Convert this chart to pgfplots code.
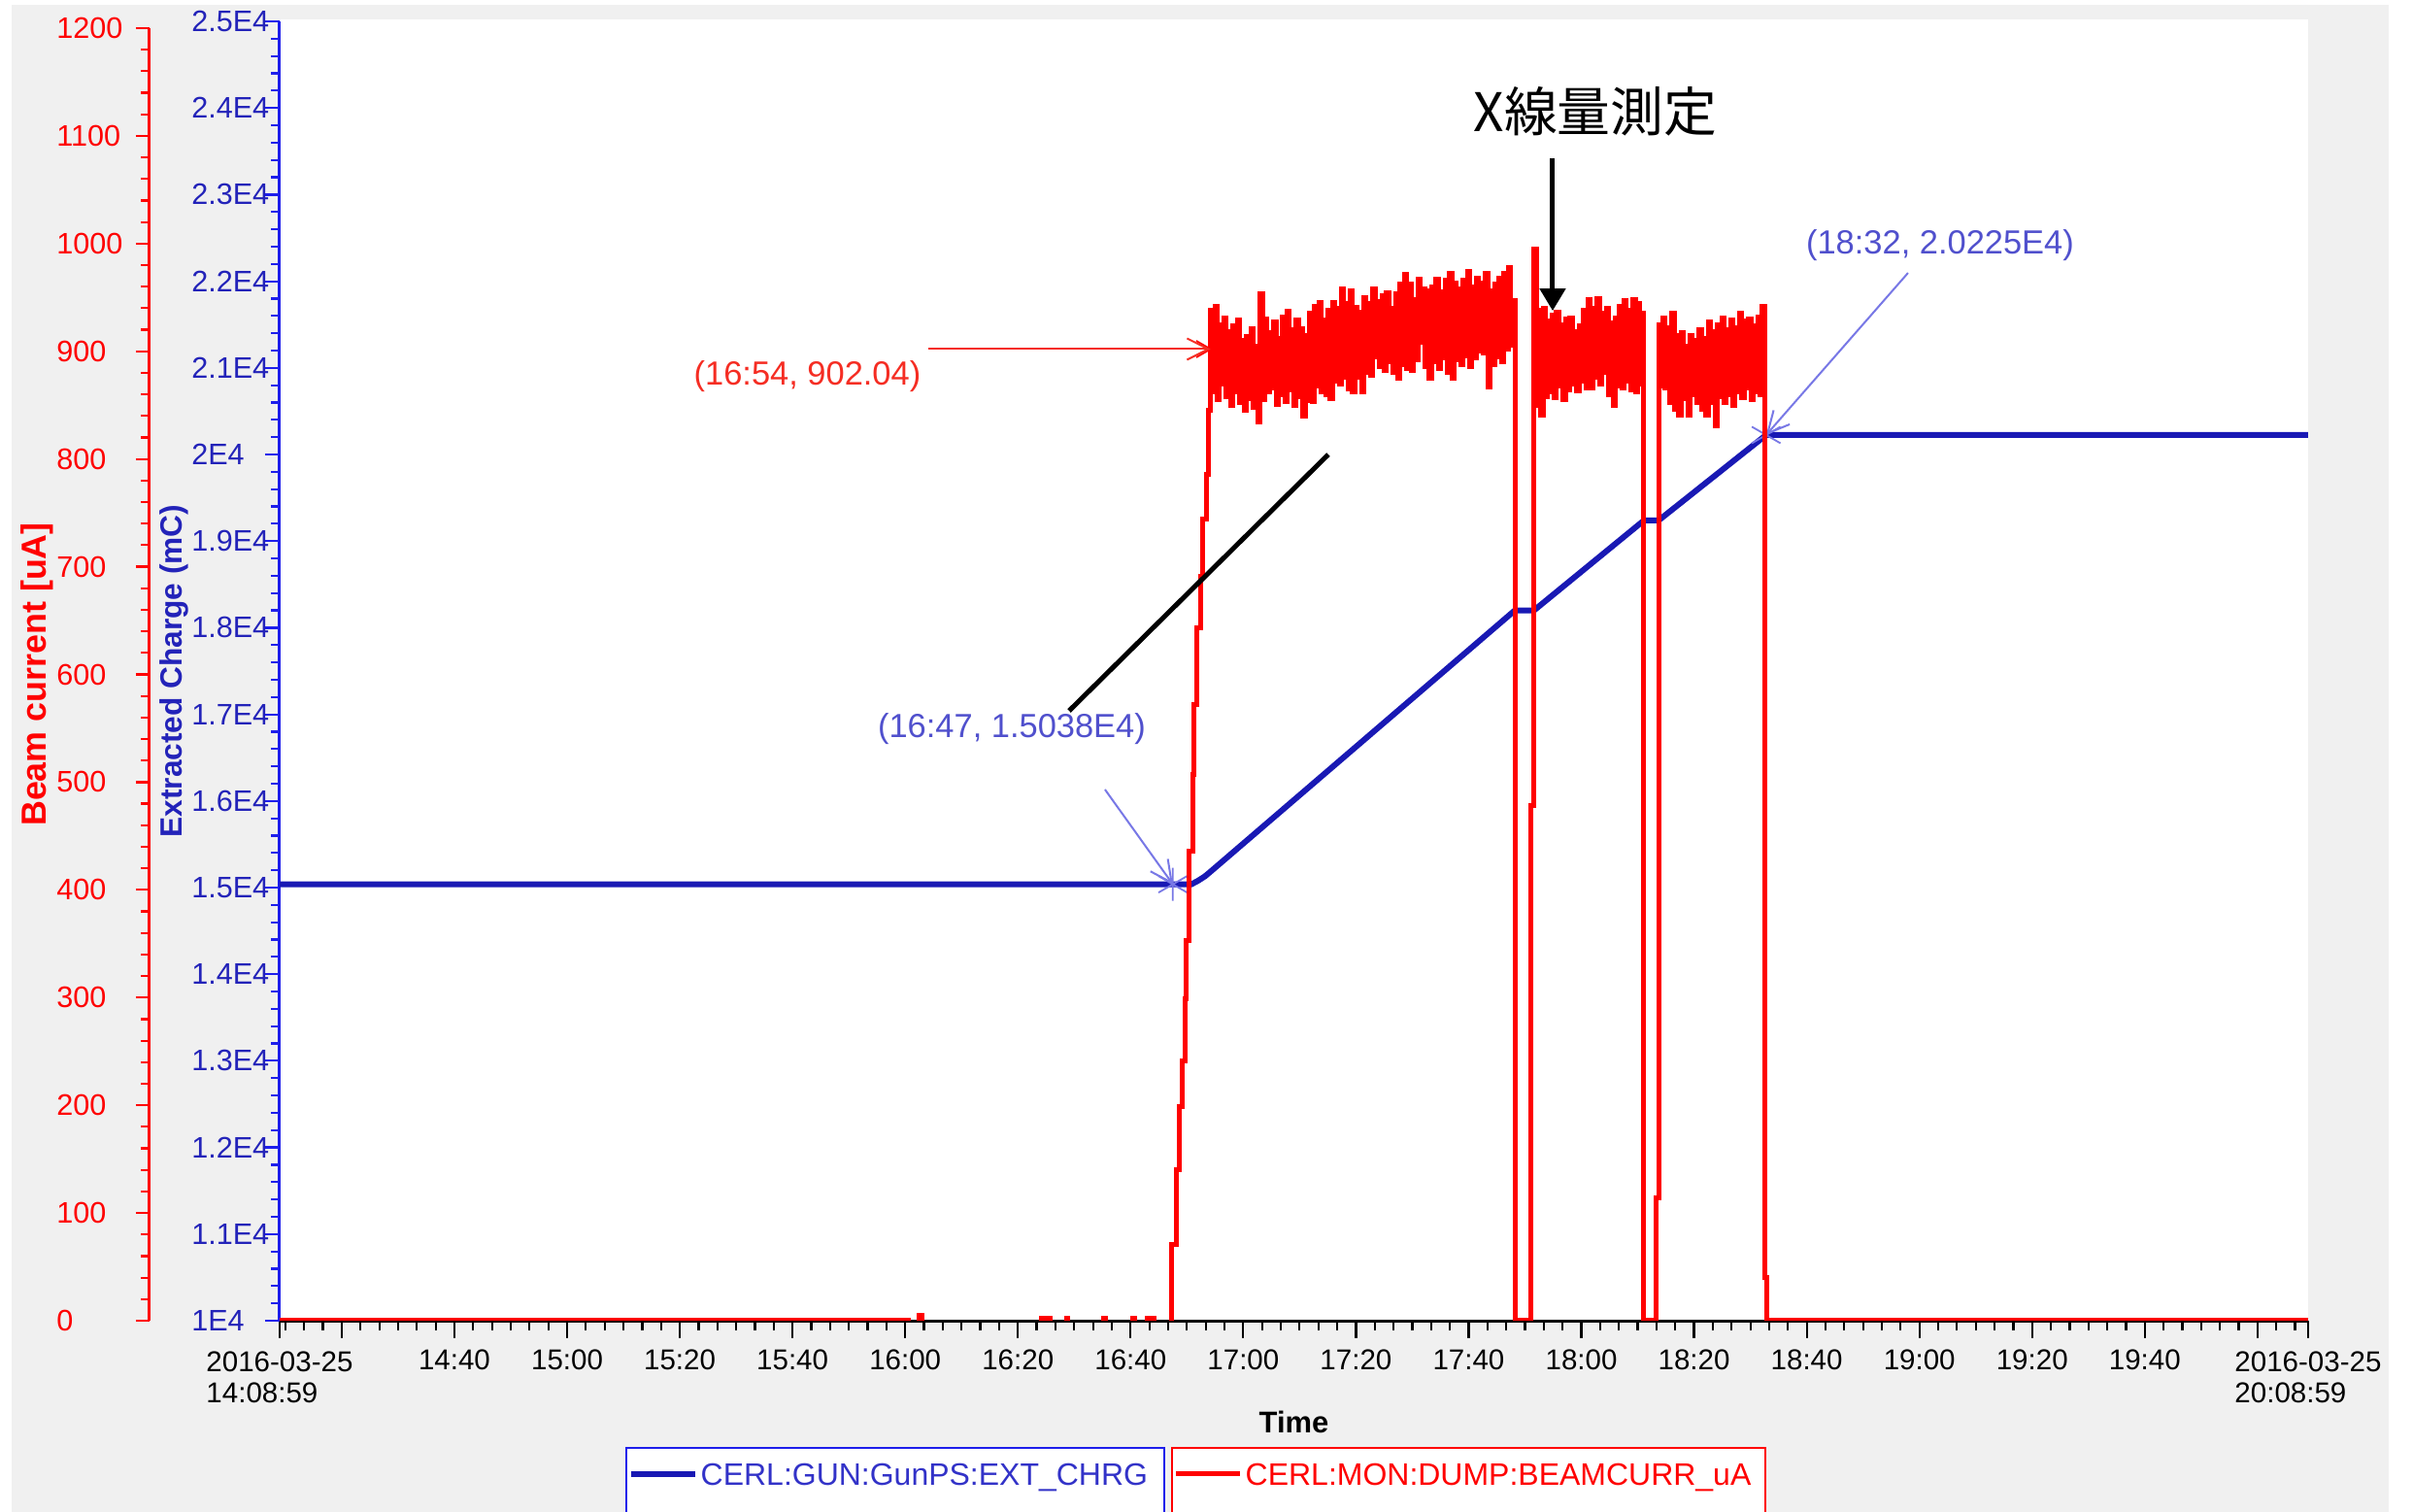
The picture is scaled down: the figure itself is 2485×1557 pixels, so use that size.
\documentclass[border=0pt]{standalone}
\usepackage{pgfplots}
\pgfplotsset{compat=1.18}
\usepackage{pgfplotstable}
\usepackage{fontspec}
\setmainfont{Liberation Sans}
\newfontfamily\cjk{Noto Sans CJK JP}
\usetikzlibrary{arrows.meta}

\definecolor{panelgray}{RGB}{240,240,240}
\definecolor{axblue}{RGB}{30,30,235}
\definecolor{tkblue}{RGB}{35,35,185}
\definecolor{datblue}{RGB}{25,25,180}
\definecolor{legblue}{RGB}{50,50,200}
\definecolor{annblue}{RGB}{80,80,205}
\definecolor{arrblue}{RGB}{120,120,230}
\definecolor{curred}{RGB}{255,0,0}
\definecolor{annred}{RGB}{245,45,35}

\newcommand\tickfont{\fontsize{8.4}{9.2}\selectfont}
\newcommand\ytickfont{\fontsize{8.7}{9.4}\selectfont}
\newcommand\annfont{\fontsize{9.8}{11}\selectfont}

% time in minutes after 14:00 (2016-03-25); extracted gun charge in mC
\pgfplotstableread{
t charge
8.983 15038
170.8 15038
172.0 15080
173.2 15130
174.3 15190
176.0 15285
228.2 18200
231.6 18200
251.1 19238
253.7 19238
272.8 20225
368.983 20225
}\chargetable

% dump beam current in uA (sample-and-hold)
\pgfplotstableread{
t current
8.983 0
120.5 -3
122.5 5
123.0 -3
144.1 2
145.8 -3
148.6 2
148.9 -3
155.2 2
155.5 -3
160.4 2
160.7 -3
163.0 2
164.1 -3
167.35 71
168.2 140
168.7 199
169.1 241
169.6 299
169.9 353
170.4 436
171.0 507
171.3 572
171.8 643
172.5 691
172.7 744
173.4 786
173.9 845
174.2 938
174.6 862
175.0 942
175.4 855
175.8 925
176.2 870
176.6 931
177.0 858
177.4 918
177.8 850
178.2 924
178.6 862
179.0 929
179.4 852
179.8 910
180.2 845
180.6 914
181.0 856
181.4 921
181.8 848
182.2 905
182.6 834
183.0 953
183.4 855
183.8 930
184.2 862
184.6 917
185.0 866
185.4 927
185.8 851
186.2 912
186.6 860
187.0 932
187.4 853
187.8 937
188.2 864
188.6 920
189.0 850
189.4 929
189.8 858
190.2 921
190.6 840
191.0 915
191.4 854
191.8 935
192.2 853
192.6 942
193.0 868
193.4 945
193.8 862
194.2 929
194.6 860
195.0 938
195.4 856
195.8 945
196.2 872
196.6 940
197.0 870
197.4 958
197.8 876
198.2 944
198.6 865
199.0 956
199.4 862
199.8 941
200.2 876
200.6 936
201.0 862
201.4 950
201.8 880
202.2 944
202.6 878
203.0 958
203.4 895
203.8 946
204.2 886
204.6 952
205.0 882
205.4 954
205.8 890
206.2 940
206.6 880
207.0 953
207.4 875
207.8 962
208.2 888
208.6 971
209.0 884
209.4 962
209.8 882
210.2 948
210.6 892
211.0 967
211.4 908
211.8 958
212.2 886
212.6 956
213.0 875
213.4 960
213.8 890
214.2 967
214.6 884
215.0 955
215.4 894
215.8 966
216.2 880
216.6 972
217.0 875
217.4 963
217.8 892
218.2 958
218.6 888
219.0 966
219.4 896
219.8 974
220.2 886
220.6 960
221.0 894
221.4 968
221.8 900
222.2 963
222.6 898
223.0 972
223.4 867
223.8 956
224.2 888
224.6 962
225.0 895
225.4 968
225.8 890
226.2 972
226.6 902
227.0 978
227.4 906
227.8 947
228.2 0
231.1 478
231.6 995
232.0 850
232.4 938
232.8 841
233.2 940
233.6 858
234.0 928
234.4 862
234.8 934
235.2 857
235.6 936
236.0 868
236.4 925
236.8 855
237.2 930
237.6 864
238.0 931
238.4 870
238.8 918
239.2 863
239.6 924
240.0 872
240.4 938
240.8 866
241.2 948
241.6 866
242.0 940
242.4 876
242.8 949
243.2 870
243.6 935
244.0 880
244.4 940
244.8 860
245.2 926
245.6 850
246.0 931
246.4 868
246.8 942
247.2 866
247.6 947
248.0 872
248.4 938
248.8 864
249.2 948
249.6 862
250.0 944
250.4 870
250.8 935
251.1 0
253.2 114
253.7 925
254.1 868
254.5 931
254.9 866
255.3 922
255.7 852
256.1 935
256.5 846
256.9 915
257.3 841
257.7 917
258.1 856
258.5 905
258.9 841
259.3 915
259.7 860
260.1 910
260.5 852
260.9 920
261.3 846
261.7 912
262.1 841
262.5 927
262.9 852
263.3 918
263.7 831
264.1 925
264.5 858
264.9 931
265.3 852
265.7 920
266.1 860
266.5 929
266.9 850
267.3 922
267.7 862
268.1 935
268.5 857
268.9 928
269.3 866
269.7 930
270.1 855
270.5 924
270.9 862
271.3 932
271.7 860
272.1 942
272.6 40
272.9 0
368.983 0
}\currenttable

\begin{document}
\begin{tikzpicture}[x=0.1mm,y=0.1mm]
\useasboundingbox (0,0) rectangle (2485,1557);
\fill[white] (0,0) rectangle (2485,1557);
\fill[panelgray] (12,0) rectangle (2460,1552);
\fill[white] (288,197) rectangle (2377,1537);

% time axis
\begin{axis}[
  at={(28.8mm,19.7mm)}, anchor=south west, scale only axis,
  width=208.9mm, height=133.8mm,
  xmin=8.983, xmax=368.983, ymin=10000, ymax=25000,
  axis x line*=bottom, axis y line=none, ytick=\empty,
  x axis line style={black, line width=0.3mm},
  tick align=outside, tick style={black, line width=0.22mm},
  major tick length=1.75mm, minor tick length=1.0mm,
  xtick={20,40,...,360},
  xticklabels={,14:40,15:00,15:20,15:40,16:00,16:20,16:40,17:00,17:20,17:40,18:00,18:20,18:40,19:00,19:20,19:40,},
  minor xtick={10,13.33333,...,368},
  extra x ticks={8.983,368.983},
  extra x tick labels={{\begin{tabular}{@{}l@{}}2016-03-25\\14:08:59\end{tabular}},{\begin{tabular}{@{}l@{}}2016-03-25\\20:08:59\end{tabular}}},
  xticklabel style={font=\tickfont, text=black},
  xlabel={Time},
  xlabel style={at={(axis description cs:0.5,-0.0777)}, anchor=center,
    font=\bfseries\fontsize{8.8}{10}\selectfont},
]
\end{axis}

% extracted charge axis and series
\begin{axis}[
  at={(28.8mm,19.7mm)}, anchor=south west, scale only axis,
  width=208.9mm, height=133.8mm,
  xmin=8.983, xmax=368.983, ymin=10000, ymax=25000,
  axis x line=none, axis y line*=left,
  y axis line style={axblue, line width=0.3mm},
  tick align=outside, tick style={axblue, line width=0.22mm},
  major tick length=1.5mm, minor tick length=0.9mm,
  ytick={10000,11000,...,25000},
  yticklabels={1E4,1.1E4,1.2E4,1.3E4,1.4E4,1.5E4,1.6E4,1.7E4,1.8E4,1.9E4,2E4,2.1E4,2.2E4,2.3E4,2.4E4,2.5E4},
  scaled y ticks=false,
  minor y tick num=4,
  yticklabel style={font=\ytickfont, text=tkblue, inner sep=0pt, text width=7.3mm, align=left, xshift=-0.2mm},
  ylabel={Extracted Charge (mC)},
  ylabel style={at={(axis description cs:-0.0522,0.5)}, anchor=center,
    font=\bfseries\fontsize{9.0}{10}\selectfont, text=tkblue},
  clip mode=individual,
]
\addplot[datblue, line width=0.6mm] table[x=t,y=charge] {\chargetable};
\addplot[only marks, mark=asterisk, mark size=1.7mm, arrblue, mark options={line width=0.18mm}]
  coordinates {(167.5,15038) (272.8,20225)};
\draw[arrblue, line width=0.2mm, -{Straight Barb[length=2.2mm,width=2.2mm]}]
  (axis cs:155.46,16132) -- (axis cs:167.5,15038);
\draw[arrblue, line width=0.2mm, -{Straight Barb[length=2.2mm,width=2.2mm]}]
  (axis cs:297.98,22096) -- (axis cs:272.8,20225);
\node[text=annblue, font=\annfont] at (axis cs:138.92,16830) {(16:47, 1.5038E4)};
\node[text=annblue, font=\annfont] at (axis cs:303.67,22420) {(18:32, 2.0225E4)};
\end{axis}

% beam current axis and series
\begin{axis}[
  at={(15.4mm,19.7mm)}, anchor=south west, scale only axis,
  width=222.3mm, height=133.1mm,
  xmin=-14.109, xmax=368.983, ymin=0, ymax=1200,
  axis x line=none, axis y line*=left,
  y axis line style={curred, line width=0.3mm},
  tick align=outside, tick style={curred, line width=0.22mm},
  major tick length=1.4mm, minor tick length=0.9mm,
  ytick={0,100,...,1200},
  yticklabels={0,100,200,300,400,500,600,700,800,900,1000,1100,1200},
  minor y tick num=4,
  yticklabel style={font=\ytickfont, text=curred, inner sep=0pt, text width=7.9mm, align=left, xshift=-0.2mm},
  ylabel={Beam current [uA]},
  ylabel style={at={(axis description cs:-0.0522,0.5)}, anchor=center,
    font=\bfseries\fontsize{10.2}{12}\selectfont, text=curred},
  clip mode=individual,
]
\addplot[const plot, curred, line width=0.5mm] table[x=t,y=current] {\currenttable};
\addplot[only marks, mark=asterisk, mark size=1.7mm, curred, mark options={line width=0.18mm}]
  coordinates {(174.2,902.04)};
\draw[annred, line width=0.2mm, -{Straight Barb[length=2.2mm,width=2.2mm]}]
  (axis cs:124.1,902.04) -- (axis cs:174.2,902.04);
\node[text=annred, font=\annfont] at (axis cs:102.65,877) {(16:54, 902.04)};
% hand-drawn notes
\draw[black, line width=0.5mm] (axis cs:149.09,566.2) -- (axis cs:195.10,804.2);
\draw[black, line width=0.5mm, -{Triangle[length=2.3mm,width=2.6mm]}]
  (axis cs:234.91,1079.2) -- (axis cs:234.91,937.6);
\node[font=\cjk\fontsize{15.6}{18}\selectfont] at (axis cs:242.5,1122.4) {X線量測定};
\end{axis}

% legend boxes
\draw[axblue, line width=0.2mm, fill=white] (645,-20) rectangle (1199,66);
\draw[curred, line width=0.2mm, fill=white] (1207,-20) rectangle (1818,66);
\draw[datblue, line width=0.55mm] (650,39) -- (716,39);
\node[anchor=base west, inner sep=0pt, text=legblue, font=\fontsize{9.1}{11}\selectfont]
  at (721,27) {CERL:GUN:GunPS:EXT\_CHRG};
\draw[curred, line width=0.5mm] (1211,39) -- (1277,39);
\node[anchor=base west, inner sep=0pt, text=curred, font=\fontsize{9.1}{11}\selectfont]
  at (1282,27) {CERL:MON:DUMP:BEAMCURR\_uA};
\end{tikzpicture}
\end{document}
